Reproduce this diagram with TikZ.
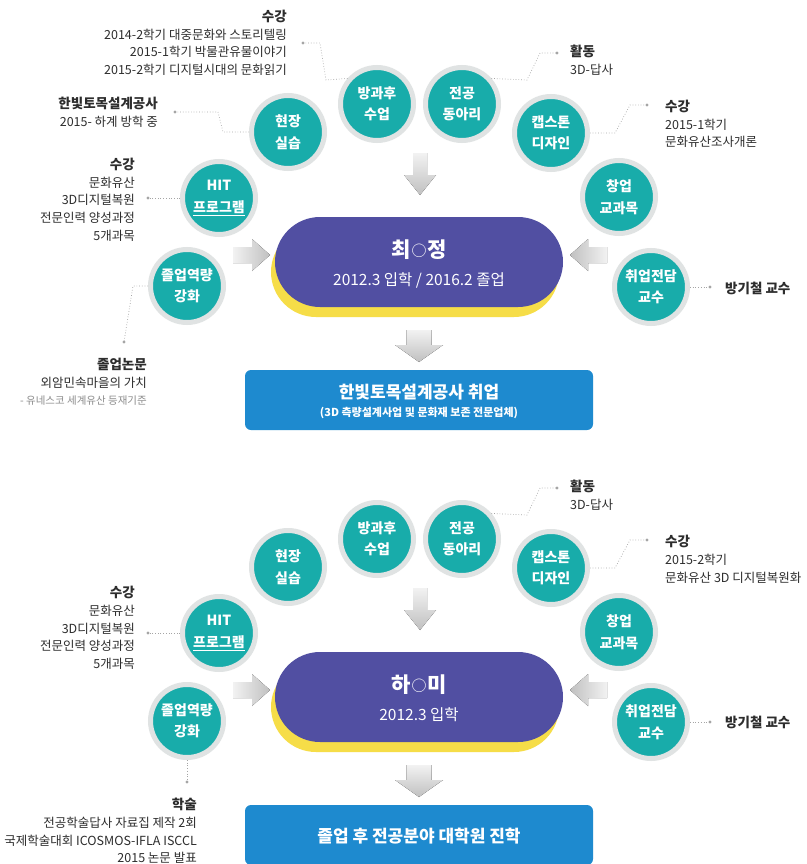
\documentclass[tikz,border=0pt]{standalone}
\usepackage{fontspec}
\setmainfont{Noto Sans CJK KR}
\definecolor{tealc}{RGB}{24,172,170}
\definecolor{ringc}{RGB}{224,227,227}
\definecolor{purp}{RGB}{81,79,162}
\definecolor{yel}{RGB}{246,221,72}
\definecolor{bluebox}{RGB}{30,138,207}
\definecolor{txt}{RGB}{45,45,45}
\definecolor{ltxt}{RGB}{140,140,140}
\definecolor{dotc}{RGB}{165,165,165}
\definecolor{arrL}{RGB}{242,242,242}
\definecolor{arrD}{RGB}{192,192,192}
\tikzset{
 bub/.style={circle, fill=tealc, draw=ringc, line width=5pt, minimum size=73pt, inner sep=0pt, text=white, align=center, font=\fontsize{14}{21.5}\selectfont\bfseries},
 lead/.style={draw=dotc, dotted, line width=0.7pt},
 anno/.style={inner sep=0pt, text=txt, font=\fontsize{12.5}{17.7}\selectfont},
 pillst/.style={rectangle, rounded corners=45pt, fill=purp, minimum width=288pt, minimum height=90pt},
 boxst/.style={rectangle, rounded corners=6pt, fill=bluebox, minimum width=348pt, minimum height=60pt},
 pname/.style={inner sep=0pt, text=white, font=\fontsize{21}{26}\selectfont\bfseries},
 psub/.style={inner sep=0pt, text=white, font=\fontsize{15.5}{18}\selectfont},
 btitle/.style={inner sep=0pt, text=white, font=\fontsize{17}{20}\selectfont\bfseries},
 bsub/.style={inner sep=0pt, text=white, font=\fontsize{11}{14}\selectfont\bfseries},
}
\newcommand\hd[1]{{\fontsize{13.5}{17.7}\selectfont\bfseries #1}}
\newcommand\smallo{\raisebox{1pt}{\fontsize{15}{15}\selectfont\mdseries\kern1pt○\kern1pt}}
\newcommand\arrdown[6]{%
 \fill[top color=arrL, bottom color=arrD] ({#1-#3},{#2-#6}) -- ({#1+#3},{#2-#6}) -- ({#1+#3},{#2-#5}) -- ({#1+#4},{#2-#5}) -- (#1,#2) -- ({#1-#4},{#2-#5}) -- ({#1-#3},{#2-#5}) -- cycle;}
\newcommand\arrright[6]{%
 \fill[left color=arrL, right color=arrD] ({#1-#6},{#2-#3}) -- ({#1-#5},{#2-#3}) -- ({#1-#5},{#2-#4}) -- (#1,#2) -- ({#1-#5},{#2+#4}) -- ({#1-#5},{#2+#3}) -- ({#1-#6},{#2+#3}) -- cycle;}
\newcommand\arrleft[6]{%
 \fill[left color=arrD, right color=arrL] ({#1+#6},{#2-#3}) -- ({#1+#5},{#2-#3}) -- ({#1+#5},{#2-#4}) -- (#1,#2) -- ({#1+#5},{#2+#4}) -- ({#1+#5},{#2+#3}) -- ({#1+#6},{#2+#3}) -- cycle;}
\newcommand\flow[2]{%
\begin{scope}[shift={(0,#2)}, name prefix=#1]
 \fill[yel, rounded corners=45pt] (271,227) rectangle (559,317);
 \node[pillst] (pill) at (419,262) {};
 \node[bub] (bh) at (377,104) {방과후\\수업};
 \node[bub] (jg) at (462,104) {전공\\동아리};
 \node[bub] (hj) at (288,132) {현장\\실습};
 \node[bub] (cs) at (551,133) {캡스톤\\디자인};
 \node[bub] (hit) at (219,198) {HIT\\\underline{프로그램}};
 \node[bub] (cu) at (619,197) {창업\\교과목};
 \node[bub] (jy) at (187,286) {졸업역량\\강화};
 \node[bub] (ce) at (651,287) {취업전담\\교수};
 \arrdown{420}{195}{7}{16}{20}{42}
 \arrdown{419}{362}{12.5}{24}{17}{32}
 \arrright{270}{255}{8}{16}{18}{37}
 \arrleft{570}{255}{8}{16}{18}{37}
\end{scope}}
\begin{document}
\begin{tikzpicture}[x=1pt,y=-1pt]
\useasboundingbox (0,0) rectangle (806,864);
\fill[white] (0,0) rectangle (806,864);
\flow{top-}{0}
\flow{bot-}{435}
% ---------- top panel ----------
\node[pname] (topname) at ([yshift=12pt]top-pill.center) {최\smallo 정};
\node[psub] (topsub) at ([yshift=-18pt]top-pill.center) {2012.3 입학 / 2016.2 졸업};
\node[boxst] (topbox) at (419,400) {};
\node[btitle] (topbt) at ([yshift=8pt]topbox.center) {한빛토목설계공사 취업};
\node[bsub] (topbs) at ([yshift=-13pt]topbox.center) {(3D 측량설계사업 및 문화재 보존 전문업체)};

\coordinate (d1) at (303,43);
\coordinate (d2) at (175,112);
\coordinate (d3) at (148,198);
\coordinate (d4) at (124,342);
\coordinate (d5) at (557,53);
\coordinate (d6) at (647,105);
\coordinate (d7) at (710,287);
\draw[lead] (top-bh.139) -- (326,80) -- (320,43) -- (d1);
\draw[lead] (top-hj.west) -- (223,132) -- (218,112) -- (d2);
\draw[lead] (top-hit.west) -- (d3);
\draw[lead] (top-jy.west) -- (133,286) -- (d4);
\draw[lead] (top-jg.41) -- (527,80) -- (540,53) -- (d5);
\draw[lead] (top-cs.east) -- (615,133) -- (630,105) -- (d6);
\draw[lead] (top-ce.east) -- (d7);
\foreach \d in {d1,d2,d3,d4,d5,d6,d7} \fill[dotc] (\d) circle (1.7pt);

\node[anno, align=right, anchor=north east] (t1) at (287,10) {\hd{수강}\\2014-2학기 대중문화와 스토리텔링\\2015-1학기 박물관유물이야기\\2015-2학기 디지털시대의 문화읽기};
\node[anno, align=right, anchor=north east] (t2) at (158,97) {\hd{한빛토목설계공사}\\2015- 하계 방학 중};
\node[anno, align=right, anchor=north east] (t3) at (135,158) {\hd{수강}\\문화유산\\3D디지털복원\\전문인력 양성과정\\5개과목};
\node[anno, align=right, anchor=north east] (t4) at (147,358) {\hd{졸업논문}\\외암민속마을의 가치\\{\fontsize{10.5}{17.7}\selectfont\color{ltxt}- 유네스코 세계유산 등재기준}};
\node[anno, align=left, anchor=north west] (t5) at (570,45) {\hd{활동}\\3D-답사};
\node[anno, align=left, anchor=north west] (t6) at (665,100) {\hd{수강}\\2015-1학기\\문화유산조사개론};
\node[anno, anchor=west] (t7) at (725,288) {\hd{방기철 교수}};

% ---------- bottom panel ----------
\node[pname] (botname) at ([yshift=12pt]bot-pill.center) {하\smallo 미};
\node[psub] (botsub) at ([yshift=-18pt]bot-pill.center) {2012.3 입학};
\node[boxst] (botbox) at (419,835) {};
\node[btitle] (botbt) at ([yshift=-1pt]botbox.center) {졸업 후 전공분야 대학원 진학};

\coordinate (e3) at (148,633);
\coordinate (e4) at (187,782);
\coordinate (e5) at (557,488);
\coordinate (e6) at (647,540);
\coordinate (e7) at (710,722);
\draw[lead] (bot-hit.west) -- (e3);
\draw[lead] (bot-jy.south) -- (e4);
\draw[lead] (bot-jg.41) -- (527,515) -- (540,488) -- (e5);
\draw[lead] (bot-cs.east) -- (615,568) -- (630,540) -- (e6);
\draw[lead] (bot-ce.east) -- (e7);
\foreach \d in {e3,e4,e5,e6,e7} \fill[dotc] (\d) circle (1.7pt);

\node[anno, align=right, anchor=north east] (b3) at (135,586) {\hd{수강}\\문화유산\\3D디지털복원\\전문인력 양성과정\\5개과목};
\node[anno, align=right, anchor=north east] (b4) at (197,798) {\hd{학술}\\전공학술답사 자료집 제작 2회\\국제학술대회 ICOSMOS-IFLA ISCCL\\2015 논문 발표};
\node[anno, align=left, anchor=north west] (b5) at (570,480) {\hd{활동}\\3D-답사};
\node[anno, align=left, anchor=north west] (b6) at (665,535) {\hd{수강}\\2015-2학기\\문화유산 3D 디지털복원화};
\node[anno, anchor=west] (b7) at (725,722) {\hd{방기철 교수}};
\end{tikzpicture}
\end{document}
